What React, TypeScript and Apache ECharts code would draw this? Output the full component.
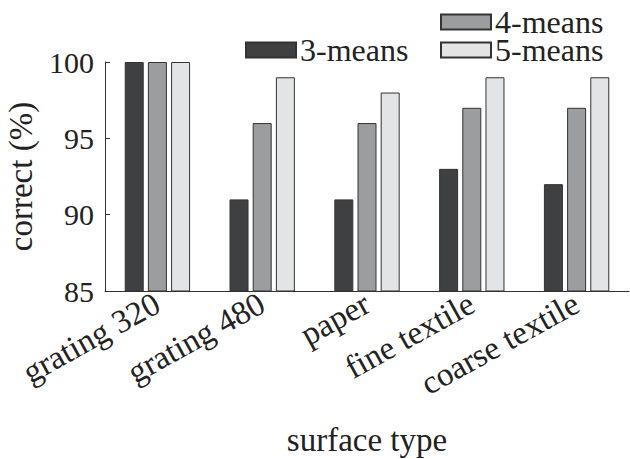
import React, { useEffect, useRef } from "react";
import * as echarts from "echarts";

const categories = ["grating 320", "grating 480", "paper", "fine textile", "coarse textile"];
const seriesNames = ["3-means", "4-means", "5-means"];
const means3 = [100, 91, 91, 93, 92];
const means4 = [100, 96, 96, 97, 97];
const means5 = [100, 99, 98, 99, 99];
const colors = ["#3f4041", "#9b9d9f", "#e2e4e6"];

const FONT = "'Liberation Serif', 'DejaVu Serif', serif";

export default function App() {
  const ref = useRef<HTMLDivElement>(null);
  useEffect(() => {
    const chart = echarts.init(ref.current!, null, { renderer: "svg" });
    const values = [means3, means4, means5];
    const legendCommon = {
      itemWidth: 50,
      itemHeight: 15,
      itemGap: 6,
      icon: "rect",
      textStyle: {
        fontFamily: FONT,
        fontSize: 32,
        lineHeight: 26,
        color: "#222",
        padding: [0, 0, 0, -1],
      },
      padding: 0,
    };
    chart.setOption({
      animation: false,
      textStyle: { fontFamily: FONT },
      legend: [
        { ...legendCommon, data: ["4-means"], left: 440, top: 6 },
        { ...legendCommon, data: ["3-means"], left: 245, top: 34 },
        { ...legendCommon, data: ["5-means"], left: 440, top: 34 },
      ],
      grid: {
        left: 105,
        right: 1,
        top: 62,
        bottom: 168,
        containLabel: false,
        outerBoundsMode: "none",
      },
      xAxis: {
        type: "category",
        data: categories,
        axisLine: { show: true, lineStyle: { color: "#333", width: 1 } },
        axisTick: { show: false },
        axisLabel: {
          rotate: 29,
          fontFamily: FONT,
          fontSize: 33,
          color: "#222",
          margin: 10,
          interval: 0,
        },
        name: "surface type",
        nameLocation: "middle",
        nameGap: 132,
        nameTextStyle: { fontFamily: FONT, fontSize: 33, color: "#222" },
      },
      yAxis: {
        type: "value",
        min: 85,
        max: 100,
        interval: 5,
        axisLine: { show: true, lineStyle: { color: "#333", width: 1 } },
        axisTick: { show: true, inside: true, length: 5, lineStyle: { color: "#333" } },
        splitLine: { show: false },
        axisLabel: { fontFamily: FONT, fontSize: 30, color: "#222", margin: 11 },
        name: "correct (%)",
        nameLocation: "middle",
        nameGap: 68,
        nameRotate: 90,
        nameTextStyle: { fontFamily: FONT, fontSize: 33, color: "#222" },
      },
      series: seriesNames.map((name, i) => ({
        name,
        type: "bar",
        data: values[i],
        barWidth: 19,
        barGap: "22%",
        itemStyle: { color: colors[i], borderColor: "#333", borderWidth: 1 },
      })),
    });
    return () => chart.dispose();
  }, []);
  return (
    <div
      ref={ref}
      style={{ position: "absolute", left: 0, top: 0, width: 630, height: 459 }}
    />
  );
}
